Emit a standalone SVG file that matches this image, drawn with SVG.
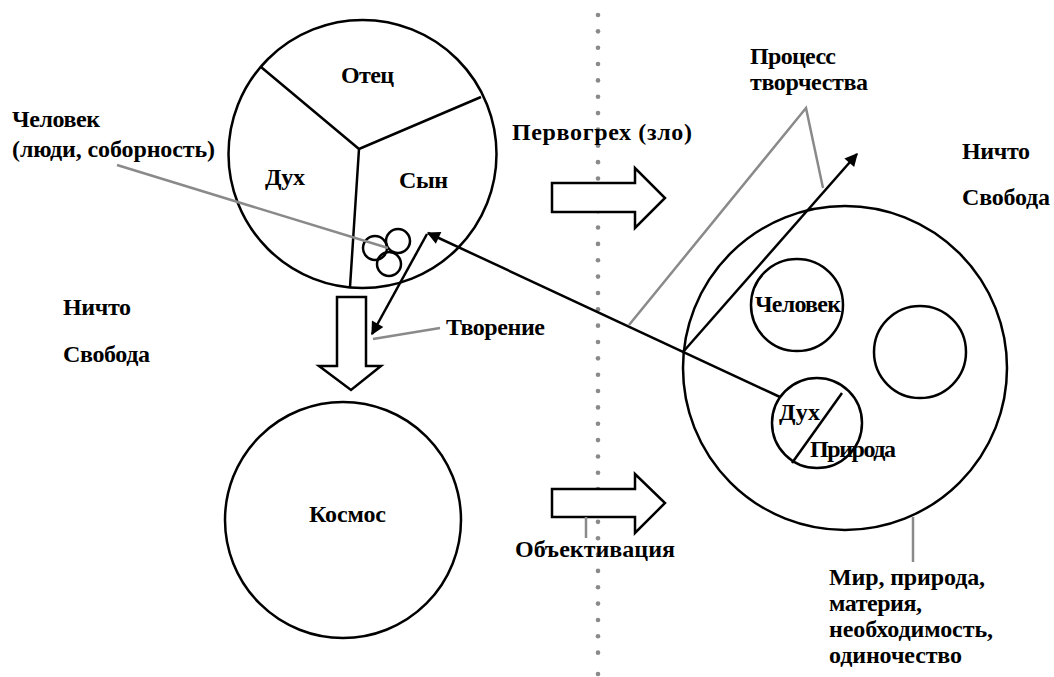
<svg xmlns="http://www.w3.org/2000/svg" width="1054" height="677" viewBox="0 0 1054 677">
<defs>
<style>
text{font-family:"Liberation Serif","Times New Roman",serif;font-weight:bold;font-size:24px;fill:#000}
.b{fill:none;stroke:#000;stroke-width:2.5}
.w{fill:#fff;stroke:#000;stroke-width:2.5;stroke-linejoin:miter}
.g{fill:none;stroke:#8a8a8a;stroke-width:2.5}
.dot{fill:#8a8a8a}
</style>
<marker id="ah2" viewBox="0 0 10 10" refX="9" refY="5" markerWidth="15" markerHeight="13" orient="auto" markerUnits="userSpaceOnUse">
<path d="M0,0 L10,5 L0,10 Z" fill="#000"/>
</marker>
</defs>
<rect width="1054" height="677" fill="#fff"/>

<g id="divider">
<circle class="dot" cx="598" cy="15" r="2.3"/><circle class="dot" cx="598" cy="31.35" r="2.3"/><circle class="dot" cx="598" cy="47.7" r="2.3"/><circle class="dot" cx="598" cy="64.05" r="2.3"/><circle class="dot" cx="598" cy="80.4" r="2.3"/><circle class="dot" cx="598" cy="96.75" r="2.3"/><circle class="dot" cx="598" cy="113.1" r="2.3"/><circle class="dot" cx="598" cy="129.45" r="2.3"/><circle class="dot" cx="598" cy="145.8" r="2.3"/><circle class="dot" cx="598" cy="162.15" r="2.3"/><circle class="dot" cx="598" cy="178.5" r="2.3"/><circle class="dot" cx="598" cy="194.85" r="2.3"/><circle class="dot" cx="598" cy="211.2" r="2.3"/><circle class="dot" cx="598" cy="227.55" r="2.3"/><circle class="dot" cx="598" cy="243.9" r="2.3"/><circle class="dot" cx="598" cy="260.25" r="2.3"/><circle class="dot" cx="598" cy="276.6" r="2.3"/><circle class="dot" cx="598" cy="292.95" r="2.3"/><circle class="dot" cx="598" cy="309.3" r="2.3"/><circle class="dot" cx="598" cy="325.65" r="2.3"/><circle class="dot" cx="598" cy="342" r="2.3"/><circle class="dot" cx="598" cy="358.35" r="2.3"/><circle class="dot" cx="598" cy="374.7" r="2.3"/><circle class="dot" cx="598" cy="391.05" r="2.3"/><circle class="dot" cx="598" cy="407.4" r="2.3"/><circle class="dot" cx="598" cy="423.75" r="2.3"/><circle class="dot" cx="598" cy="440.1" r="2.3"/><circle class="dot" cx="598" cy="456.45" r="2.3"/><circle class="dot" cx="598" cy="472.8" r="2.3"/><circle class="dot" cx="598" cy="489.15" r="2.3"/><circle class="dot" cx="598" cy="505.5" r="2.3"/><circle class="dot" cx="598" cy="521.85" r="2.3"/><circle class="dot" cx="598" cy="538.2" r="2.3"/><circle class="dot" cx="598" cy="554.55" r="2.3"/><circle class="dot" cx="598" cy="570.9" r="2.3"/><circle class="dot" cx="598" cy="587.25" r="2.3"/><circle class="dot" cx="598" cy="603.6" r="2.3"/><circle class="dot" cx="598" cy="619.95" r="2.3"/><circle class="dot" cx="598" cy="636.3" r="2.3"/><circle class="dot" cx="598" cy="652.65" r="2.3"/><circle class="dot" cx="598" cy="674" r="2.3"/>
</g>

<g id="trinity">
<circle class="b" cx="362.5" cy="154" r="134"/>
<path class="b" d="M261,67 L359,149 L481,97 M359,149 L350,287"/>
<text x="341" y="83" textLength="53">Отец</text>
<text x="265" y="185" textLength="40">Дух</text>
<text x="399" y="188" textLength="49">Сын</text>
</g>

<g id="people-circles">
<circle class="b" cx="375" cy="248" r="12"/>
<circle class="b" cx="398" cy="241" r="12"/>
<circle class="b" cx="389" cy="264" r="12"/>
</g>

<g id="kosmos">
<circle class="b" cx="343" cy="520" r="118"/>
<text x="309" y="522" textLength="77">Космос</text>
</g>

<g id="world">
<circle class="b" cx="845" cy="368" r="162"/>
</g>

<g id="man-circle">
<circle class="b" cx="797" cy="305" r="46"/>
<text x="755" y="312" textLength="86">Человек</text>
</g>

<g id="empty-circle">
<circle class="b" cx="920" cy="352" r="46"/>
</g>

<g id="spirit-nature">
<circle class="b" cx="817" cy="423" r="45"/>
<line class="b" x1="842" y1="393" x2="792" y2="463"/>
<text x="779" y="420" textLength="41">Дух</text>
<text x="810" y="457" textLength="86">Природа</text>
</g>

<g id="block-arrows">
<path class="w" d="M337,297 L366,297 L366,366 L381,366 L351,390 L319,366 L337,366 Z"/>
<path class="w" d="M552,183 L635,183 L635,168 L665,198 L635,228 L635,212 L552,212 Z"/>
<path class="w" d="M552,489 L635,489 L635,474 L665,503 L635,533 L635,517 L552,517 Z"/>
</g>

<g id="connectors">
<line class="b" x1="780" y1="397" x2="428" y2="233" marker-end="url(#ah2)"/>
<line class="b" x1="427" y1="234" x2="372" y2="334" marker-end="url(#ah2)"/>
<line class="b" x1="683" y1="352" x2="857" y2="154" marker-end="url(#ah2)"/>
<line class="g" x1="117" y1="165" x2="388" y2="248"/>
<line class="g" x1="373" y1="339" x2="440" y2="328"/>
<polyline class="g" points="629,325 806,108 823,188"/>
<line class="g" x1="586" y1="517" x2="586" y2="538"/>
<line class="g" x1="913" y1="517" x2="913" y2="562"/>
</g>

<g id="labels">
<text x="12" y="127" textLength="88">Человек</text>
<text x="12" y="157" textLength="203">(люди, соборность)</text>
<text x="63" y="315" textLength="68">Ничто</text>
<text x="63" y="362" textLength="87">Свобода</text>
<text x="446" y="335" textLength="99">Творение</text>
<text x="512" y="140" textLength="180">Первогрех (зло)</text>
<text x="750" y="64" textLength="86">Процесс</text>
<text x="750" y="90" textLength="118">творчества</text>
<text x="962" y="159" textLength="68">Ничто</text>
<text x="962" y="205" textLength="88">Свобода</text>
<text x="515" y="557" textLength="160">Объективация</text>
<text x="829" y="585" textLength="156">Мир, природа,</text>
<text x="829" y="611" textLength="93">материя,</text>
<text x="829" y="637" textLength="164">необходимость,</text>
<text x="829" y="663" textLength="133">одиночество</text>
</g>
</svg>
